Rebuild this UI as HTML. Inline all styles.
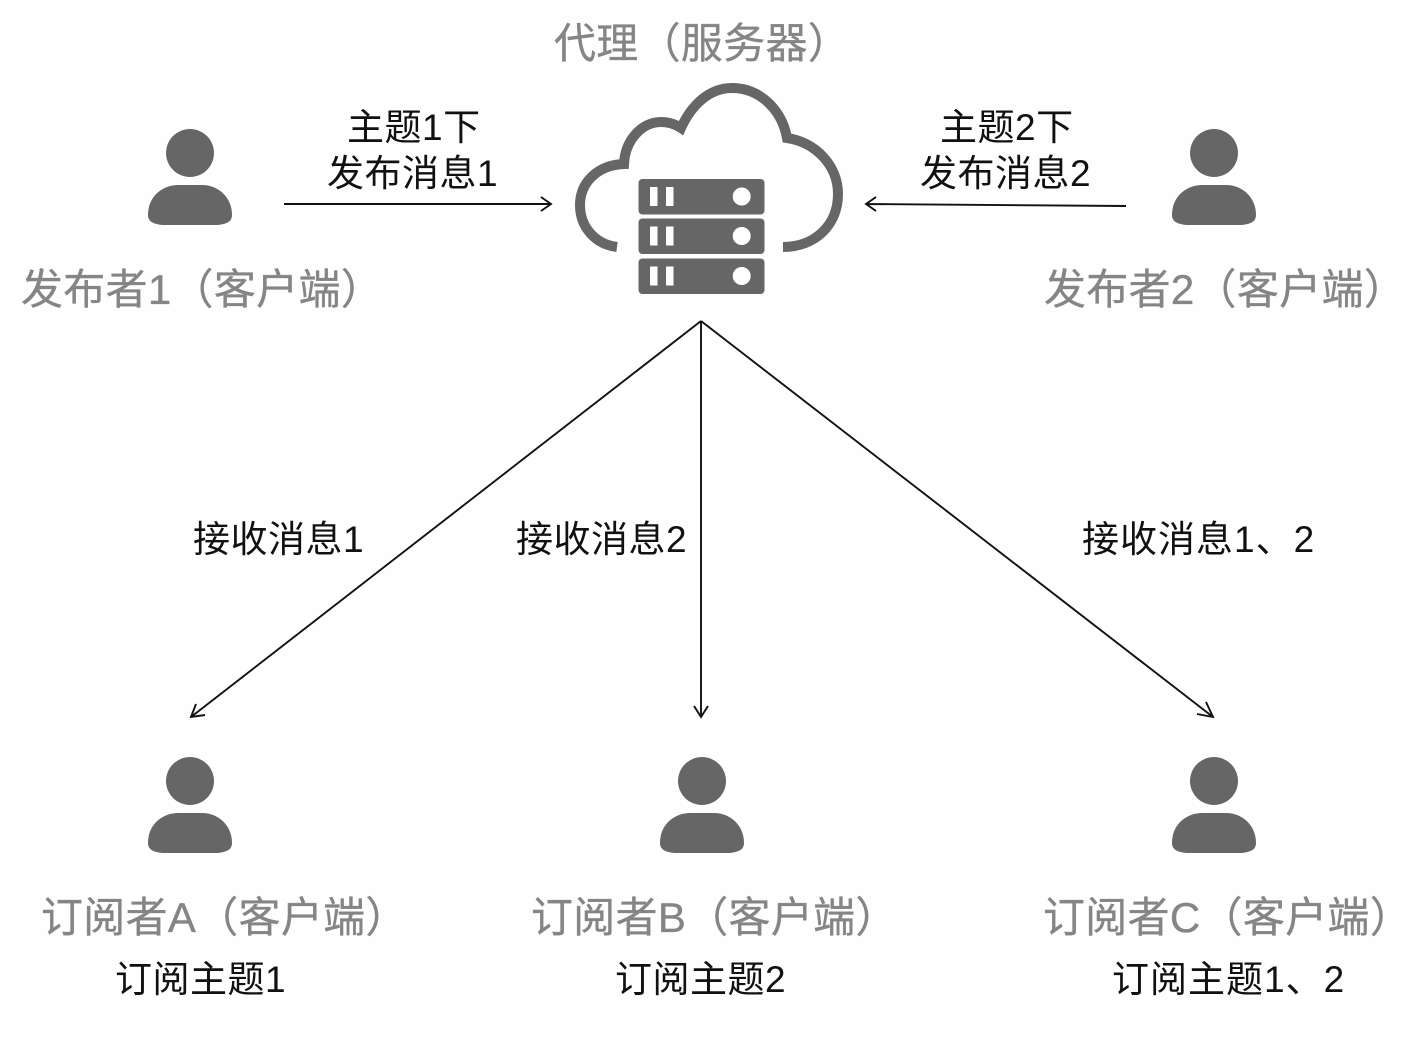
<!DOCTYPE html>
<html lang="zh">
<head>
<meta charset="utf-8">
<style>
html,body{margin:0;padding:0;background:#fefefe}
svg{display:block}
text{font-family:"Liberation Sans","Noto Sans CJK SC",sans-serif}
.g{font-size:42px;fill:#858585;stroke:#858585;stroke-width:.35px;letter-spacing:.3px}
.b{font-size:37px;fill:#111;letter-spacing:.5px}
.w{letter-spacing:1px}
</style>
</head>
<body>
<svg width="1410" height="1056" viewBox="0 0 1410 1056" xmlns="http://www.w3.org/2000/svg">
<defs>
<g id="p" fill="#666">
<ellipse cx="0" cy="0" rx="24" ry="24"/>
<path d="M-42 62C-42 42 -26 32 -12 32H12C28 32 42 44 42 62C42 69 36 71 28 72H-28C-36 71 -42 69 -42 62Z"/>
</g>
<g id="s">
<rect x="638.5" y="0" width="126" height="35.5" rx="4" fill="#666"/>
<rect x="650" y="8" width="7.5" height="19" fill="#fefefe"/>
<rect x="666" y="8" width="7.5" height="19" fill="#fefefe"/>
<circle cx="741.7" cy="17.5" r="9" fill="#fefefe"/>
</g>
</defs>
<rect width="1410" height="1056" fill="#fefefe"/>

<text class="g" x="554" y="58">代理（服务器）</text>
<path d="M617 247C594 244 580 226 580 205C580 183 597 165 624 164C625 140 642 122 661 122C668 122 675 124 681 128C692 104 710 88 732 88C760 88 782 110 787 138C815 142 838 165 838 194C838 225 815 247 783 247" fill="none" stroke="#666" stroke-width="10"/>
<use href="#s" y="179"/>
<use href="#s" y="218.5"/>
<use href="#s" y="258.5"/>

<use href="#p" x="190" y="153"/>
<use href="#p" x="1214" y="153"/>
<use href="#p" x="190" y="781"/>
<use href="#p" x="702" y="781"/>
<use href="#p" x="1214" y="781"/>

<text class="g" x="21" y="304">发布者1（客户端）</text>
<text class="g" x="1044" y="304">发布者2（客户端）</text>
<text class="g" x="41" y="932">订阅者A（客户端）</text>
<text class="g" x="531" y="932">订阅者B（客户端）</text>
<text class="g" x="1043" y="932">订阅者C（客户端）</text>

<text class="b" x="347" y="140">主题1下</text>
<text class="b" x="327" y="186">发布消息1</text>
<text class="b" x="940" y="140">主题2下</text>
<text class="b" x="920" y="186">发布消息2</text>
<text class="b" x="193" y="552">接收消息1</text>
<text class="b" x="516" y="552">接收消息2</text>
<text class="b w" x="1082" y="552">接收消息1、2</text>
<text class="b" x="115" y="992">订阅主题1</text>
<text class="b" x="615" y="992">订阅主题2</text>
<text class="b w" x="1112" y="992">订阅主题1、2</text>

<text x="914" y="670" font-size="27" fill="#ffffff">点击请替换文字内容</text>

<g fill="none" stroke="#111" stroke-width="1.9">
<path d="M284 204H551M541 197L551 204L541 211"/>
<path d="M1126 206L866 204M876 197L866 204L876 211"/>
<path d="M701 321L191 717M196 704L191 717L205 715"/>
<path d="M701 321V717M694 706L701 717L708 706"/>
<path d="M701 321L1213 717M1206 702L1213 717L1197 714"/>
</g>
</svg>
</body>
</html>
